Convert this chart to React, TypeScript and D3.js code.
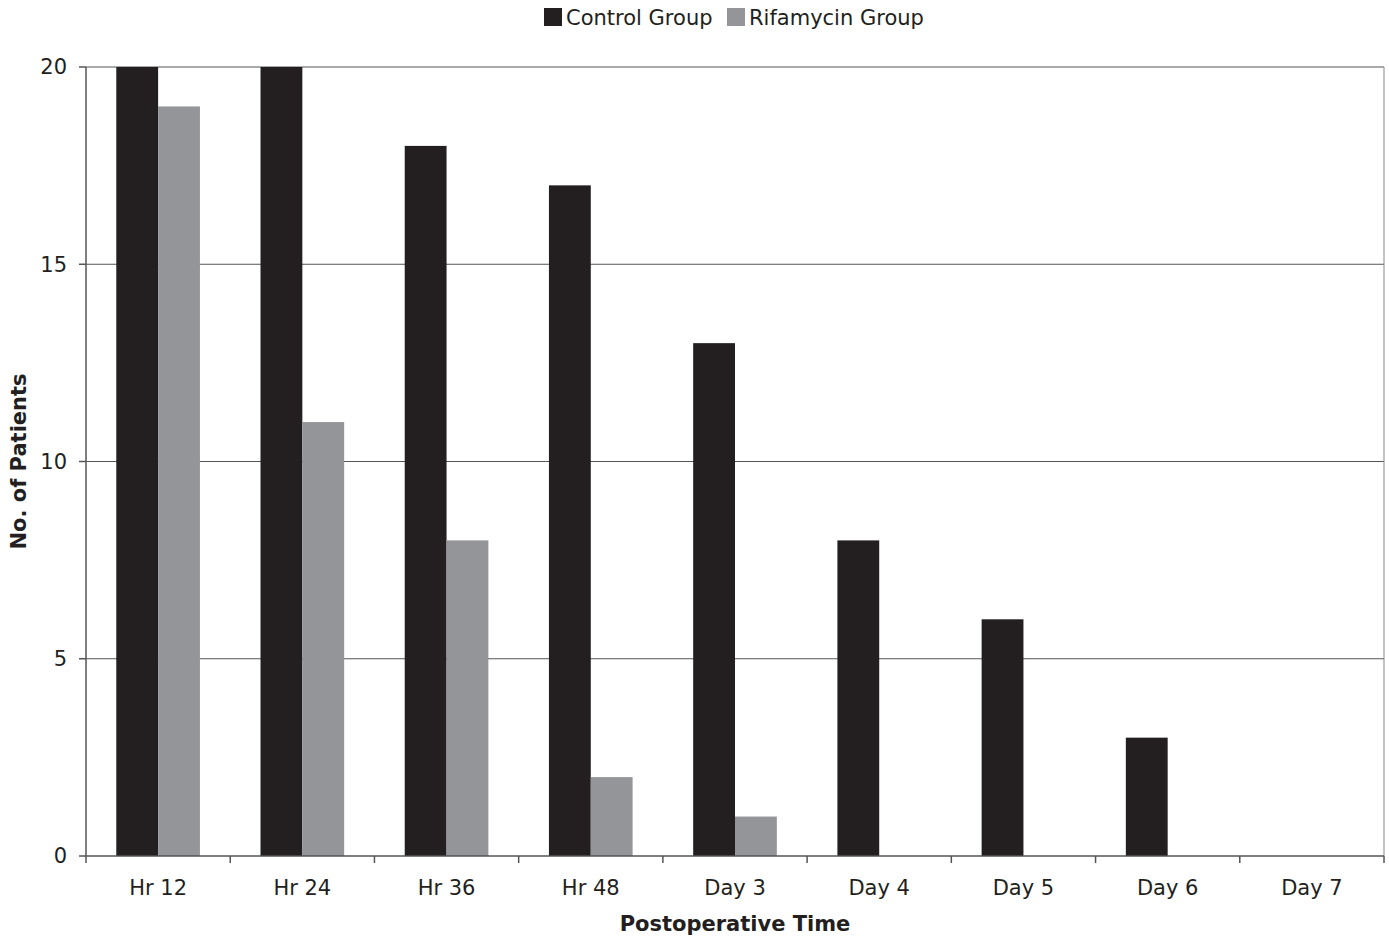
import React from "react";
import * as d3 from "d3";

const categories = ["Hr 12", "Hr 24", "Hr 36", "Hr 48", "Day 3", "Day 4", "Day 5", "Day 6", "Day 7"];
const controlValues = [20, 20, 18, 17, 13, 8, 6, 3, 0];
const rifamycinValues = [19, 11, 8, 2, 1, 0, 0, 0, 0];
const yTicks = [0, 5, 10, 15, 20];
const seriesNames = ["Control Group", "Rifamycin Group"];
const seriesColors = ["#231f20", "#939598"];

export default function App() {
  const W = 1389, H = 936;
  const left = 86, right = 1384, top = 67, bottom = 856;
  const x = d3.scaleBand<string>().domain(categories).range([left, right]).paddingInner(0).paddingOuter(0);
  const y = d3.scaleLinear().domain([0, 20]).range([bottom, top]);
  const bw = x.bandwidth();
  const barW = bw * 0.29;
  const offset = (bw - 2 * barW) / 2;
  const font = "'DejaVu Sans', Verdana, sans-serif";
  const txt = "#231f20";
  const fs = 21;
  return (
    <svg width={W} height={H} style={{ position: "absolute", left: 0, top: 0 }} fontFamily={font}>
      <rect x={0} y={0} width={W} height={H} fill="#fff" />
      {yTicks.filter(t => t > 0).map(t => (
        <line key={t} x1={left} x2={right} y1={y(t)} y2={y(t)} stroke="#555" strokeWidth={1} />
      ))}
      <line x1={right} x2={right} y1={top} y2={bottom} stroke="#888" strokeWidth={1} />
      {categories.map((c, i) => (
        <g key={c}>
          <rect x={(x(c) as number) + offset} y={y(controlValues[i])} width={barW} height={bottom - y(controlValues[i])} fill={seriesColors[0]} />
          <rect x={(x(c) as number) + offset + barW} y={y(rifamycinValues[i])} width={barW} height={bottom - y(rifamycinValues[i])} fill={seriesColors[1]} />
        </g>
      ))}
      <line x1={left} x2={left} y1={top} y2={bottom} stroke="#555" strokeWidth={1.5} />
      <line x1={left} x2={right} y1={bottom} y2={bottom} stroke="#555" strokeWidth={1.5} />
      {yTicks.map(t => (
        <g key={t}>
          <line x1={left - 7} x2={left} y1={y(t)} y2={y(t)} stroke="#555" strokeWidth={1.5} />
          <text x={left - 19} y={y(t)} dy="0.35em" textAnchor="end" fontSize={fs} fill={txt}>{t}</text>
        </g>
      ))}
      {categories.map((c, i) => (
        <g key={c}>
          <line x1={(x(c) as number) + bw} x2={(x(c) as number) + bw} y1={bottom} y2={bottom + 7} stroke="#555" strokeWidth={1.5} />
          <text x={(x(c) as number) + bw / 2} y={895} textAnchor="middle" fontSize={fs} fill={txt}>{c}</text>
        </g>
      ))}
      <line x1={left} x2={left} y1={bottom} y2={bottom + 7} stroke="#555" strokeWidth={1.5} />
      <text x={735} y={931} textAnchor="middle" fontSize={fs} fontWeight="bold" fill={txt}>Postoperative Time</text>
      <text transform={`translate(26,${(top + bottom) / 2}) rotate(-90)`} textAnchor="middle" fontSize={fs} fontWeight="bold" fill={txt}>No. of Patients</text>
      <rect x={544} y={8} width={18} height={18} fill={seriesColors[0]} />
      <text x={566} y={25} fontSize={fs} fill={txt}>{seriesNames[0]}</text>
      <rect x={727} y={8} width={18} height={18} fill={seriesColors[1]} />
      <text x={749} y={25} fontSize={fs} fill={txt}>{seriesNames[1]}</text>
    </svg>
  );
}
